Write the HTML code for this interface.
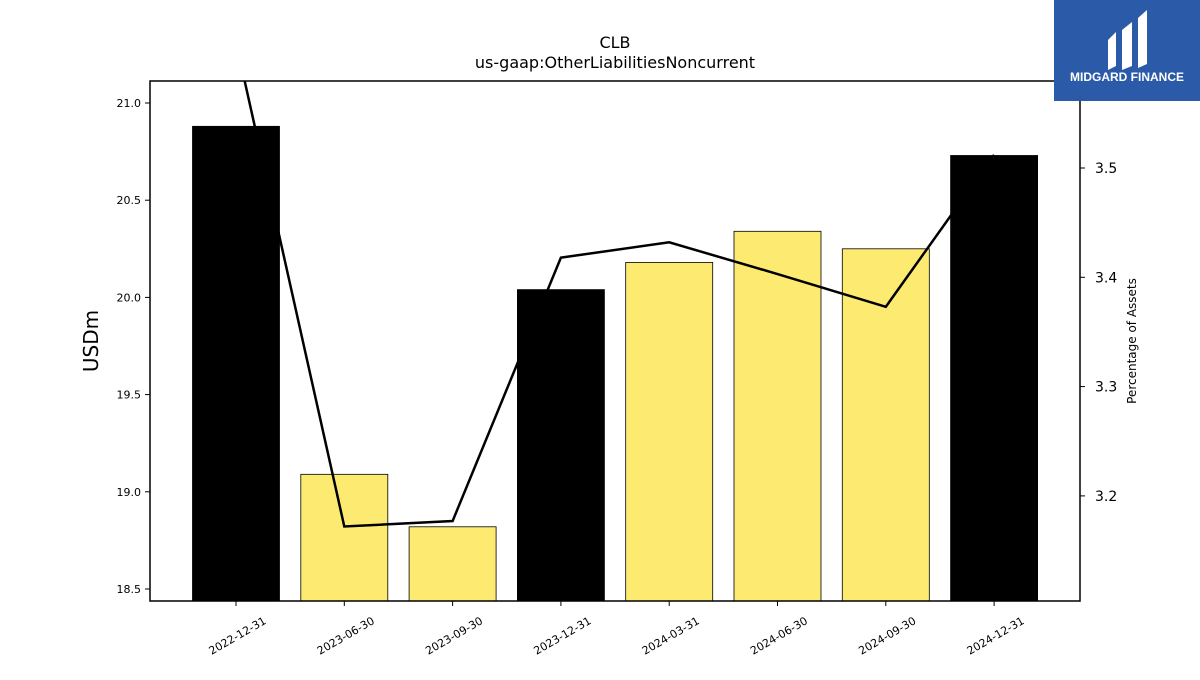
<!DOCTYPE html>
<html><head><meta charset="utf-8"><style>
body{margin:0;background:#fff;width:1200px;height:675px;overflow:hidden;font-family:"Liberation Sans","DejaVu Sans",sans-serif}
</style></head><body>
<svg id="chart" width="1200" height="675" xmlns="http://www.w3.org/2000/svg" font-family="'DejaVu Sans','Liberation Sans',sans-serif">
<text x="615" y="48" text-anchor="middle" font-size="16">CLB</text>
<text x="615" y="68" text-anchor="middle" font-size="16">us-gaap:OtherLiabilitiesNoncurrent</text>
<g id="bars"></g>
<g id="line"></g>
<rect x="150" y="81" width="930" height="520" fill="none" stroke="#000" stroke-width="1.5"/>
<g id="axes"></g>
<text transform="translate(98,341) rotate(-90)" text-anchor="middle" font-size="20">USDm</text>
<text transform="translate(1136,341) rotate(-90)" text-anchor="middle" font-size="12">Percentage of Assets</text>
<g>
<rect x="1054" y="0" width="146" height="101" fill="#2a5aa8"/>
<path d="M1108 40 l8 -8 v34 l-8 4z M1122 30 l10 -8 v44 l-10 4z M1138 18 l9 -8 v54 l-9 4z" fill="#fff"/>
<text x="1127" y="81" text-anchor="middle" font-size="12" font-weight="bold" fill="#fff" font-family="'Liberation Sans',sans-serif">MIDGARD FINANCE</text>
</g>
</svg>
<script>
const categories=["2022-12-31","2023-06-30","2023-09-30","2023-12-31","2024-03-31","2024-06-30","2024-09-30","2024-12-31"];
const values=[20.88,19.09,18.82,20.04,20.18,20.34,20.25,20.73];
const annual=[true,false,false,true,false,false,false,true];
const ratio=[3.615,3.172,3.177,3.418,3.432,3.403,3.373,3.512];
const leftTicks=[18.5,19.0,19.5,20.0,20.5,21.0];
const rightTicks=[3.2,3.3,3.4,3.5];
const NS="http://www.w3.org/2000/svg";
const x0=150,x1=1080,yT=81,yB=601;
const yL=v=>103+(21.0-v)*194.4;
const yR=v=>168+(3.5-v)*1093;
const xC=i=>236+i*108.3;
function mk(t,a,p){const e=document.createElementNS(NS,t);for(const k in a)e.setAttribute(k,a[k]);p.appendChild(e);return e;}
const bars=document.getElementById('bars'),axes=document.getElementById('axes'),line=document.getElementById('line');
values.forEach((v,i)=>{
 const y=yL(v);
 const r=mk('rect',{x:xC(i)-43.5,y:y,width:87,height:yB-y,fill:annual[i]?'#000':'#fdeb71',stroke:'#000','stroke-width':0.8},bars);
 
 
});
const cp=mk('clipPath',{id:'clip'},line);mk('rect',{x:x0,y:yT,width:x1-x0,height:yB-yT},cp);
const pl=mk('polyline',{points:ratio.map((v,i)=>xC(i)+','+yR(v)).join(' '),fill:'none',stroke:'#000','stroke-width':2.5,'clip-path':'url(#clip)'},line);


leftTicks.forEach(t=>{
 const y=yL(t);
 mk('line',{x1:x0-5,x2:x0,y1:y,y2:y,stroke:'#000'},axes);
 const tx=mk('text',{x:x0-9,y:y+4,'text-anchor':'end','font-size':11},axes);tx.textContent=t.toFixed(1);
 
 
});
rightTicks.forEach(t=>{
 const y=yR(t);
 mk('line',{x1:x1,x2:x1+5,y1:y,y2:y,stroke:'#000'},axes);
 const tx=mk('text',{x:x1+15,y:y+5,'font-size':14},axes);tx.textContent=t.toFixed(1);
 
 
});
categories.forEach((c,i)=>{
 const x=xC(i);
 mk('line',{x1:x,x2:x,y1:yB,y2:yB+5,stroke:'#000'},axes);
 const tx=mk('text',{transform:`translate(${x+31},${yB+22}) rotate(-30)`,'text-anchor':'end','font-size':11},axes);tx.textContent=c;
 
 
});
</script>
</body></html>
